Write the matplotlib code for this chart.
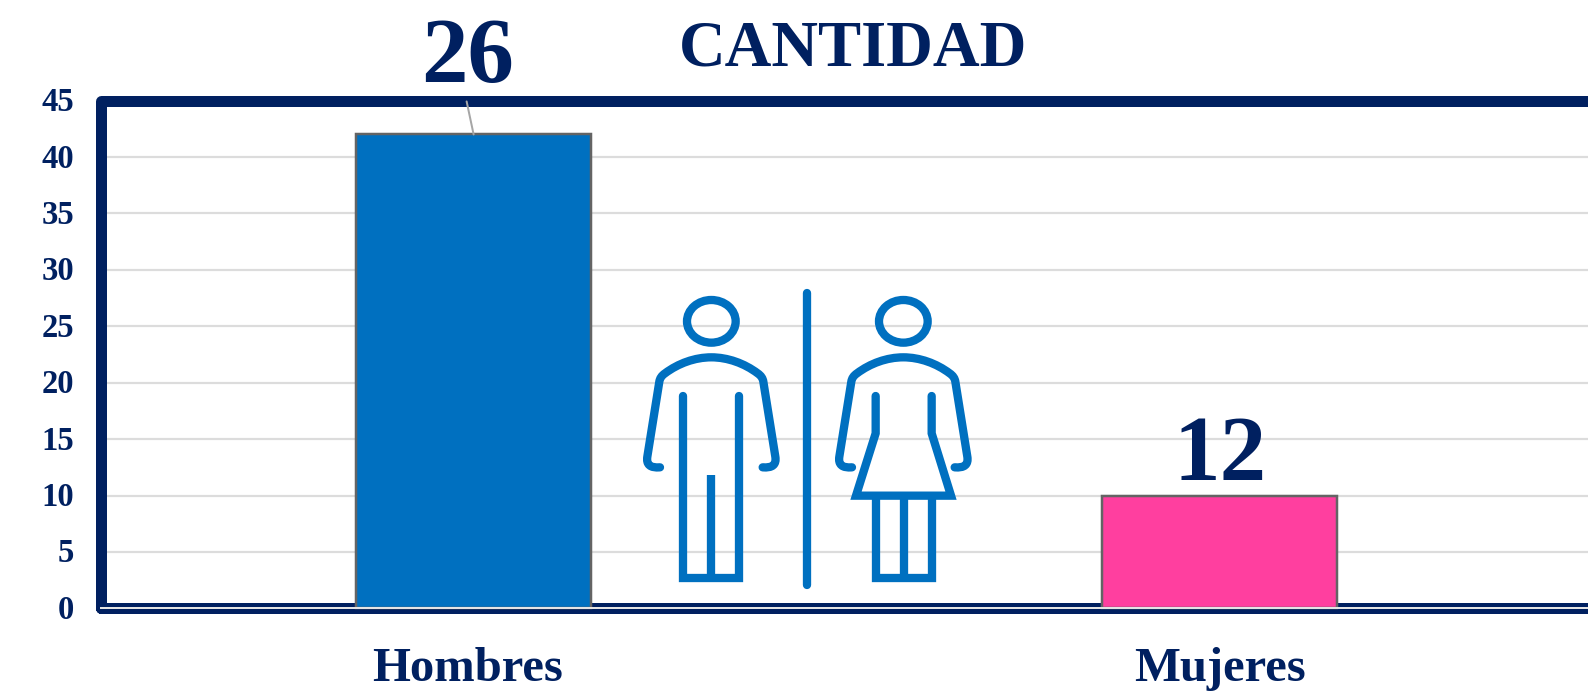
#!/usr/bin/env python3
import matplotlib
matplotlib.use('Agg')
import matplotlib.pyplot as plt
from matplotlib.patches import Ellipse, Rectangle, PathPatch
from matplotlib.path import Path
from matplotlib.transforms import ScaledTranslation

# Datos
categorias = ['Hombres', 'Mujeres']
valores = [42, 10]
etiquetas = ['26', '12']
colores = ['#0070C0', '#FF3F9F']
ticks_y = [0, 5, 10, 15, 20, 25, 30, 35, 40, 45]

AZUL = '#002060'
AZUL_ICONO = '#0070C0'
W, H = 1588, 691
px = 72 / 100  # puntos por pixel

plt.rcParams['font.family'] = ['Liberation Serif', 'DejaVu Serif']
plt.rcParams['font.weight'] = 'bold'

fig = plt.figure(figsize=(W / 100, H / 100), dpi=100, facecolor='white')
ax = fig.add_axes([100.5 / W, 1 - 608.4 / H, 1492.5 / W, 507.8 / H])
ax.set_xlim(-0.5, 1.5)
ax.set_ylim(0, 45)

for s in ax.spines.values():
    s.set_visible(False)

ax.set_yticks(ticks_y)
ax.set_yticklabels([str(t) for t in ticks_y], fontsize=23.5, color=AZUL)
ax.set_xticks(range(len(categorias)))
ax.set_xticklabels(categorias, fontsize=35, color=AZUL)
ax.tick_params(axis='y', length=0, pad=19)
ax.tick_params(axis='x', length=0, pad=28)
ax.grid(axis='y', color='#DCDCDC', linewidth=2.2 * px, zorder=1)
ax.set_axisbelow(True)

# "Hombres" va un poco a la izquierda de su barra
lab = ax.get_xticklabels()[0]
lab.set_transform(lab.get_transform() + ScaledTranslation(-6 * px / 72, 0, fig.dpi_scale_trans))
# los numeros del eje y quedan un poco mas arriba que su linea
for lab in ax.get_yticklabels():
    lab.set_transform(lab.get_transform() + ScaledTranslation(0, 1.5 * px / 72, fig.dpi_scale_trans))

# Marco grueso
marco = Rectangle((0, 0), 1.05, 1, transform=ax.transAxes, fill=False, edgecolor=AZUL,
                  linewidth=11 * px, joinstyle='round', capstyle='round', clip_on=False, zorder=2)
ax.add_patch(marco)

ax.bar(range(len(categorias)), valores, width=0.315, color=colores, edgecolor='#646464',
       linewidth=2.5 * px, zorder=3, clip_on=False)
ax.axhline(0, color='#E4E4E4', linewidth=2 * px, zorder=3.5, clip_on=False)

# Etiquetas de valor
desp_x = [-6, 0]
desp_y = [52, 16]
for i, (v, e) in enumerate(zip(valores, etiquetas)):
    ax.annotate(e, xy=(i, v), xytext=(desp_x[i] * px, desp_y[i] * px), textcoords='offset points',
                ha='center', va='baseline', fontsize=67, color=AZUL, zorder=5)

# Linea guia de la etiqueta 26
ax.annotate('', xy=(0, valores[0]), xytext=(-7 * px, 33 * px), textcoords='offset points',
            arrowprops=dict(arrowstyle='-', color='#A6A6A6', lw=2 * px, shrinkA=0, shrinkB=0),
            zorder=5)

fig.text(853 / W, 1 - 66 / H, 'CANTIDAD', ha='center', va='baseline', fontsize=46.5, color=AZUL)

# Icono de hombre / mujer (en pixeles de la figura)
ic = fig.add_axes([0, 0, 1, 1], facecolor='none', zorder=10)
ic.set_xlim(0, W)
ic.set_ylim(H, 0)
ic.axis('off')
GROSOR = 8.3 * px


def zx(x):
    return 620 + x / 3


def zy(y):
    return 280 + y / 3


def trazo(puntos, cap='butt', join='miter'):
    ic.plot([zx(p[0]) for p in puntos], [zy(p[1]) for p in puntos], color=AZUL_ICONO,
            linewidth=GROSOR, solid_capstyle=cap, solid_joinstyle=join)


def torso(dx):
    c3, c4 = Path.CURVE3, Path.CURVE4
    puntos = [(120, 562), (76, 566), (82, 530), (118, 305), (120, 290), (135, 280),
              (175, 250), (225, 232), (274, 232), (323, 232), (373, 250), (413, 280),
              (428, 290), (430, 305), (466, 530), (472, 566), (428, 562)]
    codigos = [Path.MOVETO, c3, c3, Path.LINETO, c3, c3, c4, c4, c4, c4, c4, c4,
               c3, c3, Path.LINETO, c3, c3]
    path = Path([(zx(x + dx), zy(y)) for x, y in puntos], codigos)
    ic.add_patch(PathPatch(path, fill=False, edgecolor=AZUL_ICONO, linewidth=GROSOR,
                           capstyle='round', joinstyle='round'))


for dx in [0, 576]:
    ic.add_patch(Ellipse((zx(274 + dx), zy(124)), 146 / 3, 128 / 3, fill=False,
                         edgecolor=AZUL_ICONO, linewidth=GROSOR))
    torso(dx)

# piernas hombre
trazo([(190, 348), (190, 893), (358, 893), (358, 348)], cap='round')
trazo([(274, 585), (274, 893)])
# falda y piernas mujer
trazo([(767, 348), (767, 460), (708, 647), (993, 647), (935, 460), (935, 348)], cap='round')
trazo([(767, 647), (767, 893), (935, 893), (935, 647)])
trazo([(851, 647), (851, 893)])
# separador
trazo([(562, 40), (562, 915)], cap='round')

plt.savefig('out.png', dpi=100, facecolor='white')
